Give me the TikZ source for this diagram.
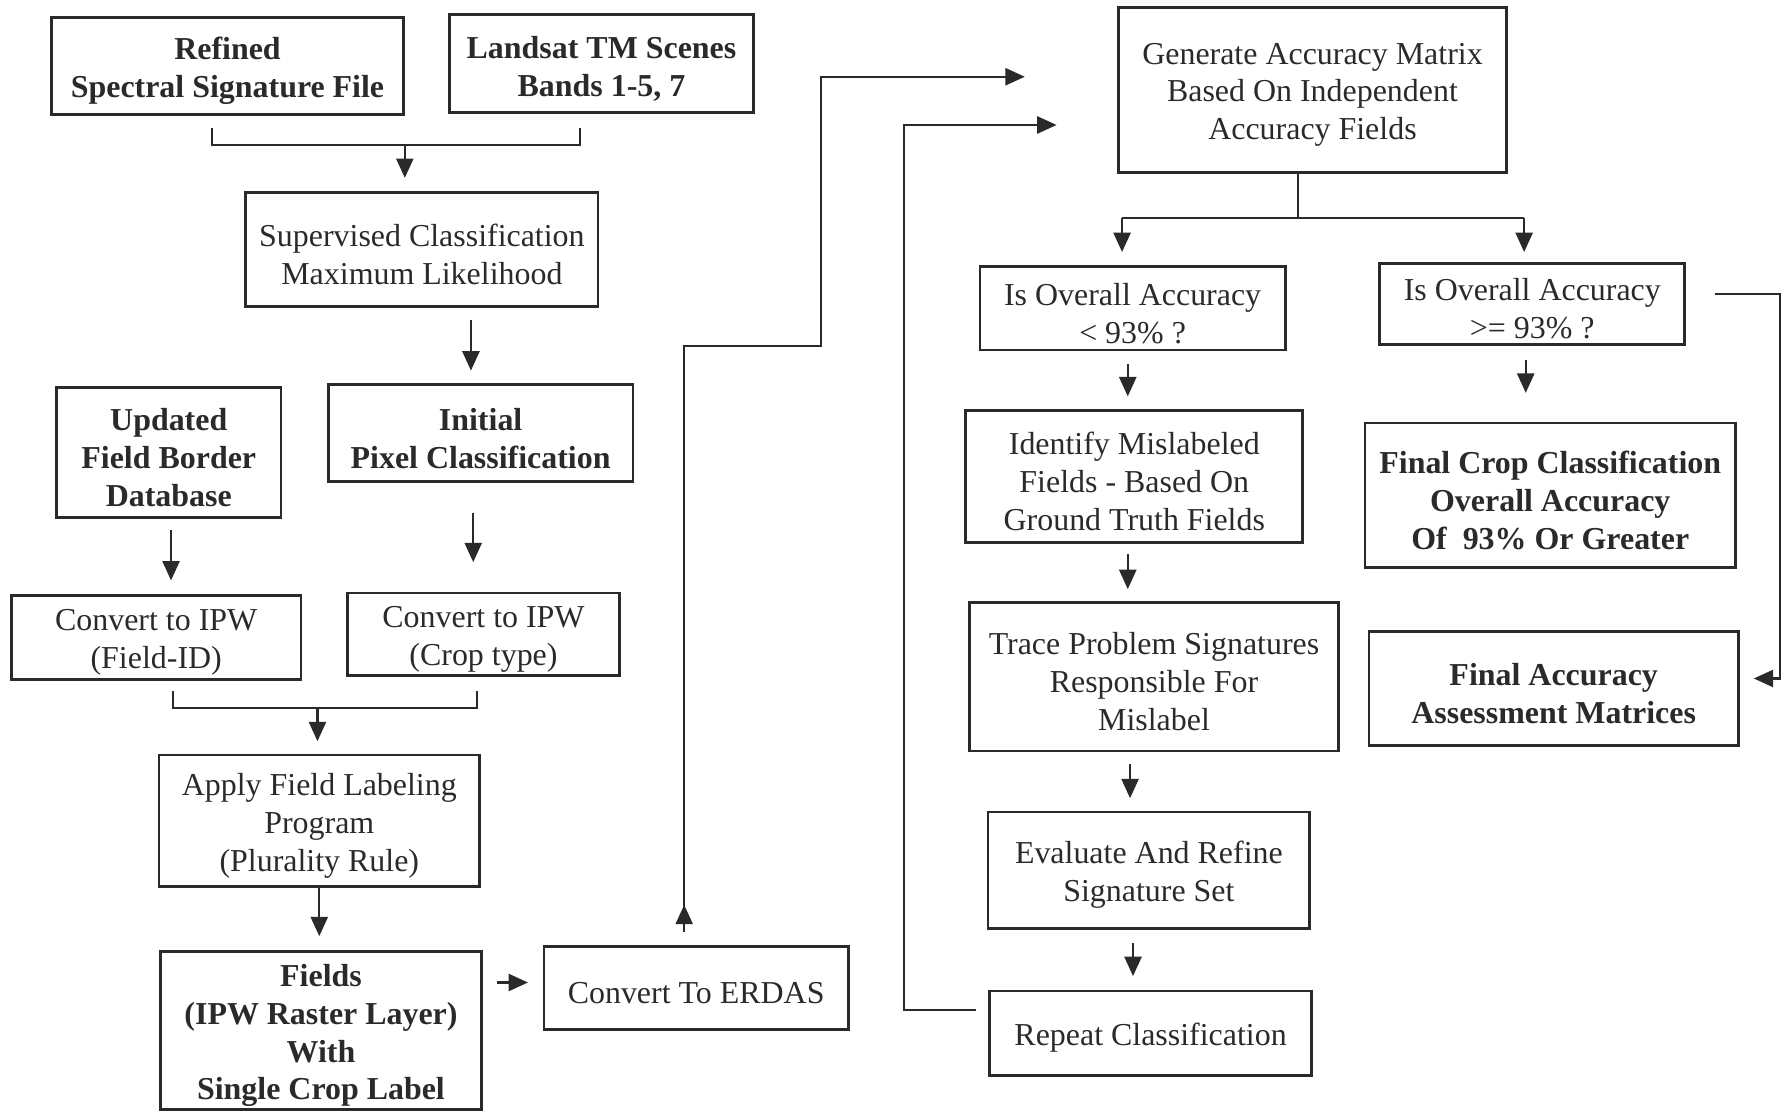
\documentclass[tikz,border=0pt]{standalone}
\usepackage{fontspec}
\setmainfont{Liberation Serif}
\usetikzlibrary{arrows.meta,calc}
\definecolor{ink}{HTML}{2A2A2A}
\tikzset{
 box/.style={draw=ink, line width=1.2pt, inner sep=0pt},
 txt/.style={align=center, inner sep=0pt, text=ink, yshift=-2.2pt,
   font=\fontsize{14}{16.6}\selectfont},
 btxt/.style={txt, font=\fontsize{14}{16.6}\selectfont\bfseries},
 wh/.style 2 args={minimum width={#1*0.5pt}, minimum height={#2*0.5pt}},
 conn/.style={draw=ink, line width=0.95pt},
 arr/.style={conn, -{Triangle[length=8.5pt,width=7.5pt]}},
}
\begin{document}
\begin{tikzpicture}[x=0.5pt,y=-0.5pt]
\useasboundingbox (0,0) rectangle (1568,975);

% ---- left column boxes
\node[box, wh={309}{85}, label={[btxt]center:{Refined\\Spectral Signature File}}] (refined) at (199.5,58) {};
\node[box, wh={267}{85.5}, label={[btxt]center:{Landsat TM Scenes\\Bands 1-5, 7}}] (landsat) at (527.5,55.75) {};
\node[box, wh={309}{100}, label={[txt]center:{Supervised Classification\\Maximum Likelihood}}] (superv) at (370,219) {};
\node[box, wh={197}{114}, label={[btxt]center:{Updated\\Field Border\\Database}}] (updated) at (148,397) {};
\node[box, wh={267}{85}, label={[btxt]center:{Initial\\Pixel Classification}}] (initial) at (421.5,380) {};
\node[box, wh={254}{73.5}, label={[txt]center:{Convert to IPW\\(Field-ID)}}] (conv1) at (137,559.25) {};
\node[box, wh={239}{72.5}, label={[txt]center:{Convert to IPW\\(Crop type)}}] (conv2) at (424,556.25) {};
\node[box, wh={281}{115.5}, label={[txt]center:{Apply Field Labeling\\Program\\(Plurality Rule)}}] (apply) at (280,719.75) {};
\node[box, wh={281}{138.5}, label={[btxt]center:{Fields\\(IPW Raster Layer)\\With\\Single Crop Label}}] (fields) at (281.5,903.75) {};
\node[box, wh={267}{72.5}, label={[txt]center:{Convert To ERDAS}}] (erdas) at (610.5,866.25) {};

% ---- right part boxes
\node[box, wh={340}{144.5}, label={[txt]center:{Generate Accuracy Matrix\\Based On Independent\\Accuracy Fields}}] (generate) at (1151,78.75) {};
\node[box, wh={267.5}{73}, label={[txt]center:{Is Overall Accuracy\\< 93\% ?}}] (qleft) at (993.25,270.5) {};
\node[box, wh={267.5}{71}, label={[txt]center:{Is Overall Accuracy\\>= 93\% ?}}] (qright) at (1343.75,266.5) {};
\node[box, wh={295.5}{116}, label={[txt]center:{Identify Mislabeled\\Fields - Based On\\Ground Truth Fields}}] (identify) at (994.75,418) {};
\node[box, wh={325}{126.6}, label={[btxt]center:{Final Crop Classification\\Overall Accuracy\\Of\enspace 93\% Or Greater}}] (finalcrop) at (1359.5,434.3) {};
\node[box, wh={324}{130}, label={[txt]center:{Trace Problem Signatures\\Responsible For\\Mislabel}}] (trace) at (1012,593.5) {};
\node[box, wh={324}{100.5}, label={[btxt]center:{Final Accuracy\\Assessment Matrices}}] (finalacc) at (1362.5,603.75) {};
\node[box, wh={282}{102}, label={[txt]center:{Evaluate And Refine\\Signature Set}}] (evaluate) at (1007.5,763) {};
\node[box, wh={282}{74}, label={[txt]center:{Repeat Classification}}] (repeat) at (1009,906) {};

% ---- coordinates for free connector ends
\coordinate (b1a) at (186,112);   \coordinate (b1b) at (186,127);
\coordinate (b1c) at (508.6,127); \coordinate (b1d) at (508.6,112);
\coordinate (b1m) at (355,127);   \coordinate (b1t) at (355,156);
\coordinate (s1) at (413,281);    \coordinate (s2) at (413,325);
\coordinate (u1) at (150,465);    \coordinate (u2) at (150,509);
\coordinate (i1) at (415,450);    \coordinate (i2) at (415,493);
\coordinate (b2a) at (152,606);   \coordinate (b2b) at (152,621);
\coordinate (b2c) at (418,621);   \coordinate (b2d) at (418,606);
\coordinate (b2m) at (278.4,621); \coordinate (b2t) at (278.4,650);
\coordinate (ap2) at (280,821);
\coordinate (f1) at (435.5,861.6); \coordinate (f2) at (463,861.6);
\coordinate (e0) at (600,817.5);  \coordinate (em) at (600,793.5);
\coordinate (e1) at (600,303.7);  \coordinate (e2) at (720,303.7);
\coordinate (e3) at (720,67.3);   \coordinate (e4) at (898.7,67.3);
\coordinate (g1) at (1138,191);
\coordinate (gl) at (984,191);    \coordinate (glt) at (984,221);
\coordinate (gr) at (1336.6,191); \coordinate (grt) at (1336.6,221);
\coordinate (q1) at (989,319);    \coordinate (q2) at (989,347.6);
\coordinate (r1) at (1338,316);   \coordinate (r2) at (1338,344.5);
\coordinate (d1) at (989,486);    \coordinate (d2) at (989,516.6);
\coordinate (t1) at (991,670);    \coordinate (t2) at (991,700);
\coordinate (v1) at (993.6,827);  \coordinate (v2) at (993.6,856);
\coordinate (l0) at (855.5,886);  \coordinate (l1) at (793,886);
\coordinate (l2) at (793,109.6);  \coordinate (l3) at (926.6,109.6);
\coordinate (k0) at (1504,258);   \coordinate (k1) at (1561,258);
\coordinate (k2) at (1561,595);   \coordinate (k3) at (1538,595);

% ---- connectors
\draw[conn] (b1a) -- (b1b) -- (b1c) -- (b1d);
\draw[arr] (b1m) -- (b1t);
\draw[arr] (s1) -- (s2);
\draw[arr] (u1) -- (u2);
\draw[arr] (i1) -- (i2);
\draw[conn] (b2a) -- (b2b) -- (b2c) -- (b2d);
\draw[arr] (b2m) -- (b2t);
\draw[arr] (apply.south) -- (ap2);
\draw[arr] (f1) -- (f2);
\draw[arr] (e0) -- (em);
\draw[arr] (e0) -- (e1) -- (e2) -- (e3) -- (e4);
\draw[conn] (generate.south -| g1) -- (g1);
\draw[conn] (gl) -- (gr);
\draw[arr] (gl) -- (glt);
\draw[arr] (gr) -- (grt);
\draw[arr] (q1) -- (q2);
\draw[arr] (r1) -- (r2);
\draw[arr] (d1) -- (d2);
\draw[arr] (t1) -- (t2);
\draw[arr] (v1) -- (v2);
\draw[arr] (l0) -- (l1) -- (l2) -- (l3);
\draw[arr] (k0) -- (k1) -- (k2) -- (k3);
\end{tikzpicture}
\end{document}
